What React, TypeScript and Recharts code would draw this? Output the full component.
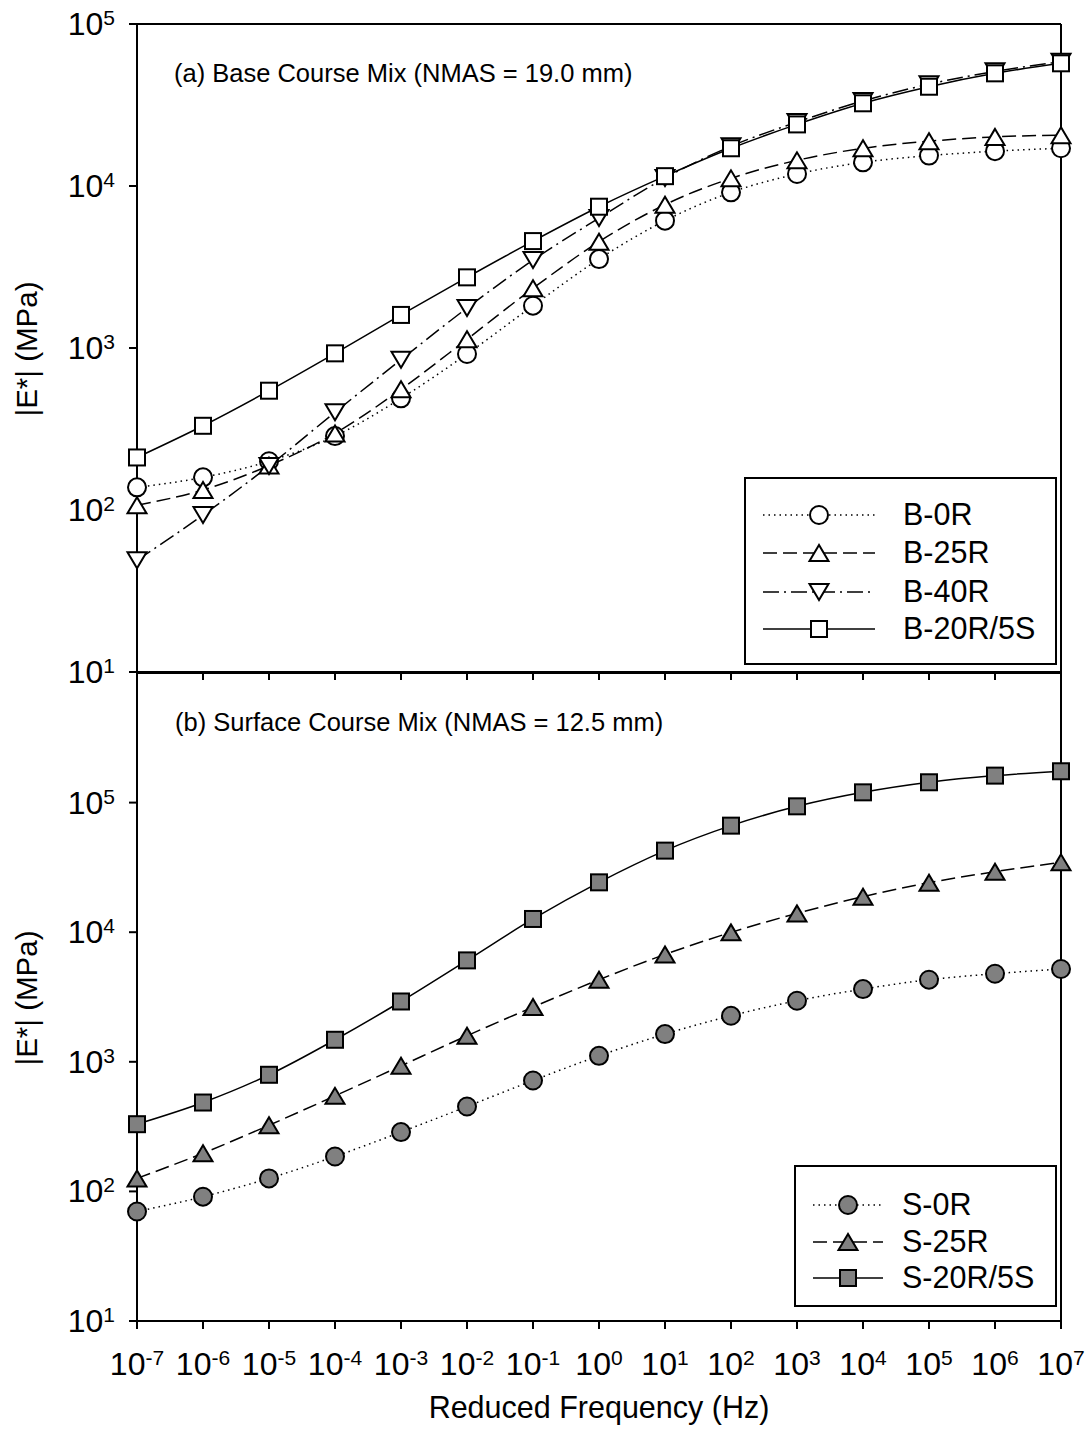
import React from 'react';
import { LineChart, Line, XAxis, YAxis, ReferenceLine } from 'recharts';

// reduced frequency (Hz), one point per decade
const freq = [1e-7, 1e-6, 1e-5, 1e-4, 1e-3, 1e-2, 1e-1, 1, 1e1, 1e2, 1e3, 1e4, 1e5, 1e6, 1e7];
const yTicks = [10, 100, 1000, 10000, 100000];

// (a) base course mix, |E*| in MPa
const b0R = [138, 159, 200, 286, 489, 918, 1824, 3540, 6110, 9140, 11860, 14000, 15400, 16400, 17100];
const b25R = [107, 133, 188, 297, 556, 1132, 2336, 4530, 7670, 11150, 14400, 17100, 18900, 20100, 20600];
const b40R = [49, 93, 187, 401, 847, 1766, 3490, 6340, 11200, 17600, 24800, 33500, 42500, 51000, 58500];
const b20R5S = [211, 331, 545, 927, 1600, 2730, 4570, 7450, 11500, 17100, 24000, 32400, 41000, 49600, 57200];

// (b) surface course mix
const s0R = [70, 91, 126, 186, 287, 452, 717, 1112, 1636, 2265, 2960, 3640, 4300, 4780, 5200];
const s25R = [126, 197, 324, 546, 931, 1588, 2644, 4300, 6740, 9970, 13970, 18800, 24100, 29300, 34600];
const s20R5S = [330, 485, 794, 1479, 2920, 6060, 12650, 24250, 42600, 66400, 93600, 120000, 143500, 161500, 174500];

const baseRows = freq.map((f, i) => ({ f, b0R: b0R[i], b25R: b25R[i], b40R: b40R[i], b20R5S: b20R5S[i] }));
const surfRows = freq.map((f, i) => ({ f, s0R: s0R[i], s25R: s25R[i], s20R5S: s20R5S[i] }));

const FONT = 'Arial, "Liberation Sans", Helvetica, sans-serif';
const GREY = '#808080';

const DOTTED = '1.5 4';
const DASHED = '14 6';
const DASHDOT = '16 5 2 5';

const pow = (v: number) => String(Math.round(Math.log10(v)));

const YTick = (props: any) => {
  const { x, y, payload } = props;
  return (
    <text x={x - 12} y={y + 11} textAnchor="end" fontFamily={FONT} fontSize={32} fill="#000">
      10<tspan fontSize={21} dy={-10}>{pow(payload.value)}</tspan>
    </text>
  );
};

const XTick = (props: any) => {
  const { x, y, payload } = props;
  return (
    <text x={x} y={y + 44} textAnchor="middle" fontFamily={FONT} fontSize={32} fill="#000">
      10<tspan fontSize={21} dy={-10}>{pow(payload.value)}</tspan>
    </text>
  );
};

const NoTick = () => <g />;

const Marker = ({ shape, cx, cy, fill }: { shape: string; cx: number; cy: number; fill: string }) => {
  const common = { fill, stroke: '#000', strokeWidth: 2, strokeDasharray: 'none' };
  if (shape === 'circle') return <circle cx={cx} cy={cy} r={9} {...common} />;
  if (shape === 'square') return <rect x={cx - 8} y={cy - 8} width={16} height={16} {...common} />;
  if (shape === 'up')
    return <polygon points={`${cx},${cy - 8} ${cx - 9.5},${cy + 8} ${cx + 9.5},${cy + 8}`} {...common} />;
  return <polygon points={`${cx},${cy + 8} ${cx - 9.5},${cy - 8} ${cx + 9.5},${cy - 8}`} {...common} />;
};

const dotFn = (shape: string, fill: string) => (props: any) => {
  const { cx, cy, index } = props;
  if (cx == null || cy == null) return <g key={index} />;
  return <Marker key={index} shape={shape} cx={cx} cy={cy} fill={fill} />;
};

const axisLine = { stroke: '#000', strokeWidth: 2 };

const baseSeries = [
  { key: 'b0R', name: 'B-0R', dash: DOTTED, shape: 'circle' },
  { key: 'b25R', name: 'B-25R', dash: DASHED, shape: 'up' },
  { key: 'b40R', name: 'B-40R', dash: DASHDOT, shape: 'down' },
  { key: 'b20R5S', name: 'B-20R/5S', dash: undefined, shape: 'square' },
];

const surfSeries = [
  { key: 's0R', name: 'S-0R', dash: DOTTED, shape: 'circle' },
  { key: 's25R', name: 'S-25R', dash: DASHED, shape: 'up' },
  { key: 's20R5S', name: 'S-20R/5S', dash: undefined, shape: 'square' },
];

const LegendBox = ({ x, y, w, h, items, fill, lineX1, lineX2, labelX, rowY }: any) => (
  <g>
    <rect x={x} y={y} width={w} height={h} fill="#fff" stroke="#000" strokeWidth={2} />
    {items.map((s: any, i: number) => {
      const cy = rowY[i];
      const mx = (lineX1 + lineX2) / 2;
      return (
        <g key={s.key}>
          <line x1={lineX1} x2={lineX2} y1={cy} y2={cy} stroke="#000" strokeWidth={1.5} strokeDasharray={s.dash} />
          <Marker shape={s.shape} cx={mx} cy={cy} fill={fill} />
          <text x={labelX} y={cy + 10} fontFamily={FONT} fontSize={30.5} fill="#000">
            {s.name}
          </text>
        </g>
      );
    })}
  </g>
);

export default function App() {
  const layer: React.CSSProperties = { position: 'absolute', left: 0, top: 0 };
  return (
    <div style={{ position: 'absolute', left: 0, top: 0, width: 1091, height: 1442, background: '#fff' }}>
      <div style={layer}>
        <LineChart width={1091} height={1442} data={baseRows} margin={{ top: 24, right: 30, bottom: 740, left: 0 }}>
          <XAxis dataKey="f" type="number" scale="log" domain={[1e-7, 1e7]} ticks={freq} interval={0}
            tick={<NoTick />} tickSize={8} height={30} axisLine={axisLine} tickLine={axisLine} />
          <YAxis type="number" scale="log" domain={[10, 1e5]} ticks={yTicks} interval={0}
            tick={<YTick />} tickSize={8} width={137} axisLine={axisLine} tickLine={axisLine} />
          <ReferenceLine y={1e5} stroke="#000" strokeWidth={2} />
          <ReferenceLine x={1e7} stroke="#000" strokeWidth={2} />
          {baseSeries.map((s) => (
            <Line key={s.key} dataKey={s.key} name={s.name} type="monotone" stroke="#000" strokeWidth={1.5}
              strokeDasharray={s.dash} dot={dotFn(s.shape, '#fff')} activeDot={false} isAnimationActive={false} />
          ))}
        </LineChart>
      </div>
      <div style={layer}>
        <LineChart width={1091} height={1442} data={surfRows} margin={{ top: 673, right: 30, bottom: 61, left: 0 }}>
          <XAxis dataKey="f" type="number" scale="log" domain={[1e-7, 1e7]} ticks={freq} interval={0}
            tick={<XTick />} tickSize={8} height={60} axisLine={axisLine} tickLine={axisLine} />
          <YAxis type="number" scale="log" domain={[10, 1e6]} ticks={yTicks} interval={0}
            tick={<YTick />} tickSize={8} width={137} axisLine={axisLine} tickLine={axisLine} />
          <ReferenceLine y={1e6} stroke="#000" strokeWidth={2} />
          <ReferenceLine x={1e7} stroke="#000" strokeWidth={2} />
          {surfSeries.map((s) => (
            <Line key={s.key} dataKey={s.key} name={s.name} type="monotone" stroke="#000" strokeWidth={1.5}
              strokeDasharray={s.dash} dot={dotFn(s.shape, GREY)} activeDot={false} isAnimationActive={false} />
          ))}
        </LineChart>
      </div>
      <svg width={1091} height={1442} style={{ ...layer, pointerEvents: 'none' }}>
        <text x={174} y={82} fontFamily={FONT} fontSize={25.5} fill="#000">(a) Base Course Mix (NMAS = 19.0 mm)</text>
        <text x={175} y={731} fontFamily={FONT} fontSize={25.5} fill="#000">(b) Surface Course Mix (NMAS = 12.5 mm)</text>
        <text x={599} y={1418} textAnchor="middle" fontFamily={FONT} fontSize={30.5} fill="#000">Reduced Frequency (Hz)</text>
        <text x={37} y={349} transform="rotate(-90 37 349)" textAnchor="middle" fontFamily={FONT} fontSize={29.5} fill="#000">|E*| (MPa)</text>
        <text x={37} y={998} transform="rotate(-90 37 998)" textAnchor="middle" fontFamily={FONT} fontSize={29.5} fill="#000">|E*| (MPa)</text>
        <LegendBox x={745} y={478} w={311} h={186} items={baseSeries} fill="#fff"
          lineX1={763} lineX2={875} labelX={903} rowY={[515, 553, 592, 629]} />
        <LegendBox x={795} y={1166} w={261} h={140} items={surfSeries} fill={GREY}
          lineX1={813} lineX2={883} labelX={902} rowY={[1205, 1242, 1278]} />
      </svg>
    </div>
  );
}
